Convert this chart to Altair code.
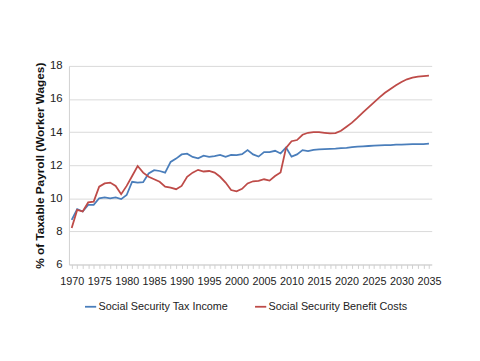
import altair as alt
import pandas as pd

years = list(range(1970, 2036))

tax_income = [8.7, 9.35, 9.2, 9.6, 9.6, 10.0, 10.05, 10.0, 10.05, 9.95,
              10.2, 11.0, 10.95, 10.97, 11.5, 11.7, 11.65, 11.55, 12.2, 12.4,
              12.65, 12.7, 12.5, 12.42, 12.58, 12.5, 12.55, 12.62, 12.5, 12.62,
              12.61, 12.67, 12.91, 12.65, 12.52, 12.79, 12.79, 12.87, 12.71, 13.07,
              12.52, 12.65, 12.91, 12.85, 12.93, 12.95, 12.97, 12.99, 13.0, 13.03,
              13.05, 13.09, 13.12, 13.14, 13.16, 13.18, 13.2, 13.21, 13.22, 13.24,
              13.25, 13.26, 13.27, 13.28, 13.28, 13.3]

benefit_costs = [8.2, 9.3, 9.2, 9.75, 9.8, 10.7, 10.9, 10.95, 10.75, 10.25,
                 10.75, 11.35, 11.95, 11.55, 11.3, 11.15, 11.0, 10.7, 10.65, 10.55,
                 10.75, 11.3, 11.55, 11.72, 11.62, 11.65, 11.55, 11.3, 10.95, 10.5,
                 10.42, 10.57, 10.9, 11.03, 11.05, 11.15, 11.07, 11.35, 11.56, 13.05,
                 13.45, 13.52, 13.84, 13.96, 14.0, 14.0, 13.96, 13.92, 13.94, 14.08,
                 14.32, 14.57, 14.87, 15.19, 15.5, 15.8, 16.1, 16.38, 16.61, 16.83,
                 17.03, 17.19, 17.29, 17.35, 17.39, 17.41]

series_names = ["Social Security Tax Income", "Social Security Benefit Costs"]
series_colors = ["#4A7EBB", "#BE4B48"]

df = pd.concat([
    pd.DataFrame({"year": years, "value": tax_income, "series": series_names[0]}),
    pd.DataFrame({"year": years, "value": benefit_costs, "series": series_names[1]}),
])

FONT = "Liberation Sans, Arial, sans-serif"

chart = alt.Chart(df).mark_line(strokeWidth=1.8).encode(
    x=alt.X("year:Q",
            scale=alt.Scale(domain=[1969.5, 2035.5], nice=False, zero=False),
            axis=alt.Axis(title=None, values=years, format="d",
                          labelExpr="datum.value % 5 == 0 ? datum.label : ''",
                          labelOverlap=False, grid=False, ticks=True, tickSize=4,
                          tickColor="#d0d0d0", domainColor="#d0d0d0",
                          labelFontSize=11, labelColor="#222222", labelPadding=7,
                          labelFont=FONT)),
    y=alt.Y("value:Q",
            scale=alt.Scale(domain=[6, 18], nice=False, zero=False),
            axis=alt.Axis(title="% of Taxable Payroll (Worker Wages)",
                          values=[6, 8, 10, 12, 14, 16, 18], ticks=False,
                          gridColor="#d9d9d9", domainColor="#d0d0d0",
                          labelFontSize=11.5, labelColor="#222222", labelPadding=7,
                          labelFont=FONT, titleFont=FONT, titleFontSize=12,
                          titleFontWeight="bold", titleColor="#111111",
                          titlePadding=3)),
    color=alt.Color("series:N",
                    scale=alt.Scale(domain=series_names, range=series_colors),
                    legend=alt.Legend(title=None, orient="none", direction="horizontal",
                                      legendX=15, legendY=238, padding=0,
                                      symbolType="stroke", symbolStrokeWidth=1.8,
                                      symbolSize=130, labelFontSize=11,
                                      labelFont=FONT, labelColor="#222222",
                                      columnPadding=22, labelOffset=1)),
).properties(
    width=369, height=202,
    autosize=alt.AutoSizeParams(type="none"),
    padding={"left": 62, "top": 56, "right": 41, "bottom": 80},
).configure_view(stroke=None)

chart.save("out.html", embed_options={"renderer": "svg", "actions": False})
